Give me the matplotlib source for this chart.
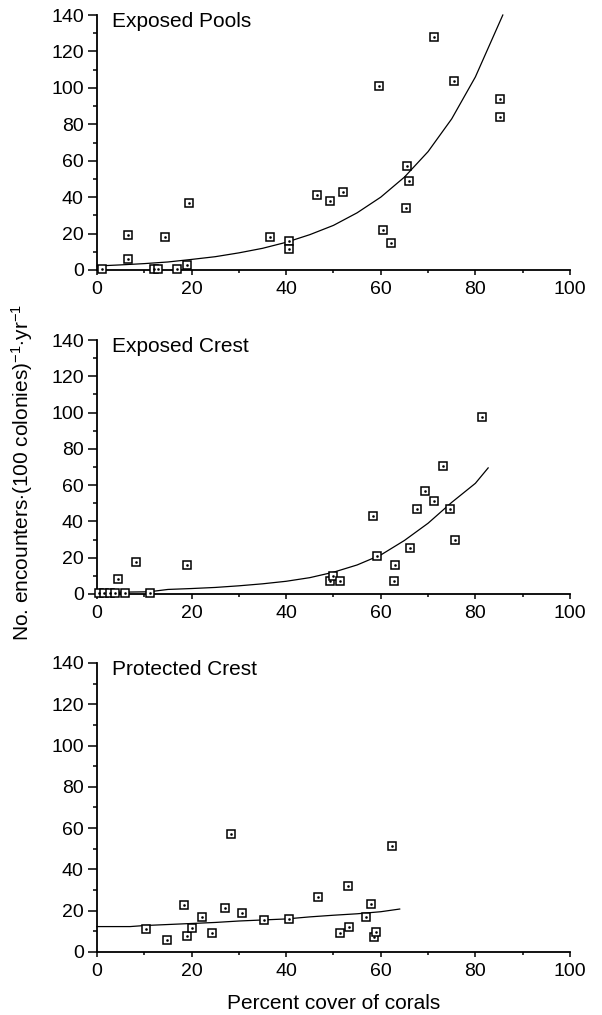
import numpy as np
import matplotlib
matplotlib.use("Agg")
from matplotlib import pyplot as plt

plt.rcParams['font.family'] = ['Liberation Sans', 'DejaVu Sans']
plt.rcParams['mathtext.fontset'] = 'custom'
plt.rcParams['mathtext.rm'] = 'Liberation Sans'
plt.rcParams['mathtext.it'] = 'Liberation Sans'

# --- data ---
pools_x = [1, 6.5, 6.5, 12, 13, 14.3, 17, 19, 19.5, 36.5, 40.6, 40.6, 46.5, 49.3, 52,
           59.7, 60.5, 62.2, 65.3, 65.6, 66, 71.2, 75.4, 85.2, 85.2]
pools_y = [0.5, 19, 6, 0.5, 0.5, 18, 0.5, 3, 37, 18, 16, 11.4, 41, 38, 43,
           101, 22, 15, 34, 57, 49, 128, 104, 94, 84]
pools_fit_x = [0, 5, 10, 15, 20, 25, 30, 35, 40, 45, 50, 55, 60, 65, 70, 75, 80, 85.8]
pools_fit_y = [2.2, 2.8, 3.5, 4.4, 5.8, 7.3, 9.4, 11.9, 15.2, 19.4, 24.5, 31.4, 40, 51,
               65, 83, 106, 140]

crest_x = [0.5, 1.5, 2.7, 3.8, 6.0, 11.3, 4.4, 8.2, 19, 49.2, 50, 51.3, 58.3, 59.3,
           62.7, 63.1, 66.2, 67.7, 69.4, 71.2, 73.2, 74.6, 75.7, 81.3]
crest_y = [0.5, 0.5, 0.5, 0.5, 0.5, 0.5, 8, 17.6, 16, 7, 10, 7, 43, 21,
           7, 16, 25.5, 47, 57, 51, 70.5, 47, 30, 97.5]
crest_fit_x = [0, 5, 11, 15, 20, 25, 30, 35, 40, 45, 50, 55, 60, 65, 70, 75, 80, 82.7]
crest_fit_y = [1, 1, 1.2, 2.5, 3, 3.6, 4.5, 5.6, 7, 9, 12, 16, 21.5, 29.5, 39, 50.5, 61, 69.5]

prot_x = [10.4, 14.9, 18.4, 19, 20, 22.2, 24.3, 27, 28.4, 30.6, 35.3, 40.6, 46.8,
          51.4, 53.1, 53.2, 56.9, 57.9, 58.6, 59, 62.4]
prot_y = [11, 6, 22.7, 7.7, 11.8, 17, 9.3, 21.3, 57, 18.8, 15.5, 16.2, 26.7,
          9, 32.2, 12.3, 17, 23.4, 7.4, 9.8, 51.3]
prot_fit_x = [0, 7, 10, 15, 20, 25, 30, 35, 40, 45, 50, 55, 60, 64]
prot_fit_y = [12.3, 12.3, 12.8, 13.3, 13.8, 14.3, 15, 15.5, 16, 17, 17.8, 18.5, 19.5, 20.8]

titles = ["Exposed Pools", "Exposed Crest", "Protected Crest"]
panels = [(pools_x, pools_y, pools_fit_x, pools_fit_y),
          (crest_x, crest_y, crest_fit_x, crest_fit_y),
          (prot_x, prot_y, prot_fit_x, prot_fit_y)]

# axes boxes in figure fractions (left, bottom, width, height)
boxes = [(0.1611, 0.7340, 0.7857, 0.2512),
         (0.1611, 0.4148, 0.7857, 0.2502),
         (0.1611, 0.0621, 0.7857, 0.2847)]

fig = plt.figure(figsize=(6.02, 10.15), dpi=100)

for box, title, (px, py, fx, fy) in zip(boxes, titles, panels):
    ax = fig.add_axes(box)
    ax.plot(fx, fy, color='black', lw=0.9, clip_on=False)
    ax.plot(px, py, ls='none', marker='s', ms=5.6, mfc='white', mec='black',
            mew=1.1, clip_on=False, zorder=3)
    ax.plot(px, py, ls='none', marker='s', ms=0.8, mfc='black', mec='black',
            clip_on=False, zorder=4)
    ax.set_xlim(0, 100)
    ax.set_ylim(0, 140)
    ax.set_xticks(np.arange(0, 101, 20))
    ax.set_xticks(np.arange(0, 101, 10), minor=True)
    ax.set_yticks(np.arange(0, 141, 20))
    ax.set_yticks(np.arange(0, 141, 10), minor=True)
    for s in ['top', 'right']:
        ax.spines[s].set_visible(False)
    for s in ['left', 'bottom']:
        ax.spines[s].set_linewidth(1.3)
    ax.tick_params(axis='both', which='both', direction='out', width=1.1, labelsize=14)
    ax.tick_params(axis='y', which='major', length=6.5, pad=3)
    ax.tick_params(axis='y', which='minor', length=3)
    ax.tick_params(axis='x', which='major', length=3.8, pad=4)
    ax.tick_params(axis='x', which='minor', length=2.5)
    ax.text(0.031, 1.012, title, transform=ax.transAxes, ha='left', va='top', fontsize=15)
    last = ax

last.set_xlabel("Percent cover of corals", fontsize=15, labelpad=10)
fig.text(0.037, 0.535, r"No. encounters$\cdot$(100 colonies)$^{-1}$$\cdot$yr$^{-1}$",
         rotation=90, ha='center', va='center', fontsize=15)

fig.savefig("out.png", dpi=100)
